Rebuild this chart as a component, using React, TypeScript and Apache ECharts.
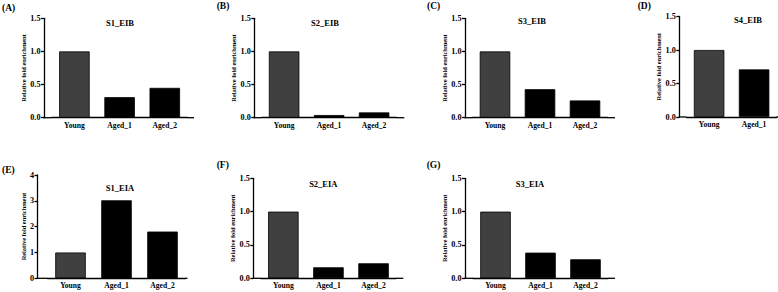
import React, { useEffect, useRef } from "react";
import * as echarts from "echarts";

// Category labels
const groups3 = ["Young", "Aged_1", "Aged_2"];
const groups2 = ["Young", "Aged_1"];

// Relative fold enrichment per site
const s1EIB = [1.0, 0.31, 0.45];
const s2EIB = [1.0, 0.04, 0.08];
const s3EIB = [1.0, 0.43, 0.26];
const s4EIB = [1.0, 0.71];
const s1EIA = [1.0, 3.02, 1.81];
const s2EIA = [1.0, 0.165, 0.225];
const s3EIA = [1.0, 0.385, 0.285];

// Y-axis scales
const yMaxSmall = 1.5;
const yStepSmall = 0.5;
const yMaxLarge = 4;
const yStepLarge = 1;

const yName = "Relative fold enrichment";
const FONT = "Liberation Serif, serif";

interface Panel {
  letter: string;
  title: string;
  cats: string[];
  values: number[];
  yMax: number;
  yStep: number;
  decimals: number;
  // layout
  axisX: number;
  top: number;
  bottom: number;
  pad: number;
  catW: number;
  nameGap: number;
  titleX: number;
  titleY: number;
  letterX: number;
  letterY: number;
}

const panels: Panel[] = [
  { letter: "(A)", title: "S1_EIB", cats: groups3, values: s1EIB, yMax: yMaxSmall, yStep: yStepSmall, decimals: 1,
    axisX: 44, top: 18.3, bottom: 117.7, pad: 7.8, catW: 45.2, nameGap: 16, titleX: 120, titleY: 23.3, letterX: 2, letterY: 7.5 },
  { letter: "(B)", title: "S2_EIB", cats: groups3, values: s2EIB, yMax: yMaxSmall, yStep: yStepSmall, decimals: 1,
    axisX: 254.3, top: 18.3, bottom: 117.7, pad: 7.3, catW: 45, nameGap: 16, titleX: 325, titleY: 23.3, letterX: 216.7, letterY: 6 },
  { letter: "(C)", title: "S3_EIB", cats: groups3, values: s3EIB, yMax: yMaxSmall, yStep: yStepSmall, decimals: 1,
    axisX: 465, top: 18.3, bottom: 117.7, pad: 7.5, catW: 45, nameGap: 17.5, titleX: 532, titleY: 21, letterX: 427, letterY: 6 },
  { letter: "(D)", title: "S4_EIB", cats: groups2, values: s4EIB, yMax: yMaxSmall, yStep: yStepSmall, decimals: 1,
    axisX: 679.3, top: 16.5, bottom: 117, pad: 7.3, catW: 45, nameGap: 14.5, titleX: 748, titleY: 20, letterX: 637.7, letterY: 5.5 },
  { letter: "(E)", title: "S1_EIA", cats: groups3, values: s1EIA, yMax: yMaxLarge, yStep: yStepLarge, decimals: 0,
    axisX: 37.5, top: 175, bottom: 278.3, pad: 10, catW: 46, nameGap: 9.5, titleX: 120, titleY: 188.3, letterX: 2, letterY: 170 },
  { letter: "(F)", title: "S2_EIA", cats: groups3, values: s2EIA, yMax: yMaxSmall, yStep: yStepSmall, decimals: 1,
    axisX: 253.3, top: 178.3, bottom: 278.3, pad: 7.5, catW: 45.1, nameGap: 15, titleX: 323.3, titleY: 184.3, letterX: 216.7, letterY: 165 },
  { letter: "(G)", title: "S3_EIA", cats: groups3, values: s3EIA, yMax: yMaxSmall, yStep: yStepSmall, decimals: 1,
    axisX: 465, top: 178.3, bottom: 278.3, pad: 8, catW: 45, nameGap: 17.5, titleX: 530, titleY: 184.3, letterX: 426.7, letterY: 165 },
];

const AXIS_W = 1.3;
const AXIS_SPAN = 150;

function buildOption() {
  const grid: any[] = [];
  const xAxis: any[] = [];
  const yAxis: any[] = [];
  const series: any[] = [];
  const graphic: any[] = [];

  panels.forEach((p, i) => {
    const left = p.axisX + p.pad;
    grid.push({
      left,
      top: p.top,
      width: p.cats.length * p.catW,
      height: p.bottom - p.top,
      containLabel: false,
    });
    xAxis.push({
      type: "category",
      gridIndex: i,
      data: p.cats,
      axisLine: { show: true, lineStyle: { color: "#000", width: AXIS_W } },
      axisTick: { show: false },
      axisLabel: {
        interval: 0,
        margin: 3.5,
        color: "#000",
        fontFamily: FONT,
        fontWeight: "bold",
        fontSize: 7.6,
      },
      splitLine: { show: false },
    });
    yAxis.push({
      type: "value",
      gridIndex: i,
      min: 0,
      max: p.yMax,
      interval: p.yStep,
      offset: p.pad,
      name: yName,
      nameLocation: "middle",
      nameGap: p.nameGap,
      nameTextStyle: { color: "#000", fontFamily: FONT, fontWeight: "bold", fontSize: 6.4 },
      axisLine: { show: true, lineStyle: { color: "#000", width: AXIS_W } },
      axisTick: { show: true, length: 3, lineStyle: { color: "#000", width: AXIS_W } },
      axisLabel: {
        margin: 3.5,
        color: "#000",
        fontFamily: FONT,
        fontWeight: "bold",
        fontSize: 8.2,
        formatter: (v: number) => v.toFixed(p.decimals),
      },
      splitLine: { show: false },
    });
    series.push({
      type: "bar",
      xAxisIndex: i,
      yAxisIndex: i,
      barWidth: 30.5,
      data: p.values.map((v, k) => ({
        value: v,
        itemStyle: {
          color: k === 0 ? "#404040" : "#000000",
          borderColor: "#000",
          borderWidth: 0.8,
        },
      })),
    });

    // x-axis baseline continues out to meet the y-axis and past the last group
    graphic.push({
      type: "line",
      shape: { x1: p.axisX - AXIS_W / 2, y1: p.bottom, x2: left, y2: p.bottom },
      style: { stroke: "#000", lineWidth: AXIS_W },
    });
    graphic.push({
      type: "line",
      shape: { x1: left + p.cats.length * p.catW, y1: p.bottom, x2: p.axisX + AXIS_SPAN, y2: p.bottom },
      style: { stroke: "#000", lineWidth: AXIS_W },
    });

    graphic.push({
      type: "text",
      x: p.titleX,
      y: p.titleY,
      style: {
        text: p.title,
        font: `bold 8.5px ${FONT}`,
        fill: "#000",
        textAlign: "center",
        textVerticalAlign: "middle",
        align: "center",
        verticalAlign: "middle",
      },
    });
    graphic.push({
      type: "text",
      x: p.letterX,
      y: p.letterY,
      style: {
        text: p.letter,
        font: `bold 9.5px ${FONT}`,
        fill: "#000",
        textAlign: "left",
        textVerticalAlign: "middle",
        align: "left",
        verticalAlign: "middle",
      },
    });
  });

  return {
    animation: false,
    backgroundColor: "#ffffff",
    grid,
    xAxis,
    yAxis,
    series,
    graphic,
  };
}

export default function App() {
  const ref = useRef<HTMLDivElement>(null);

  useEffect(() => {
    if (!ref.current) return;
    const chart = echarts.init(ref.current, undefined, { renderer: "svg" });
    chart.setOption(buildOption());
    return () => chart.dispose();
  }, []);

  return (
    <div
      ref={ref}
      style={{ position: "absolute", left: 0, top: 0, width: 778, height: 292, background: "#fff" }}
    />
  );
}
